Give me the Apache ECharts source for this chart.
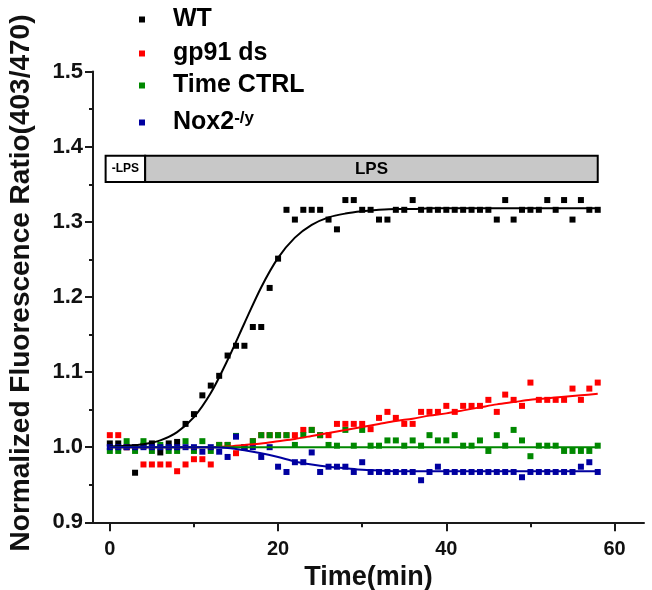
<!DOCTYPE html>
<html>
<head>
<meta charset="utf-8">
<script src="https://cdn.jsdelivr.net/npm/echarts@6/dist/echarts.min.js"></script>
<style>
html,body{margin:0;padding:0;background:#fff;}
#chart{width:652px;height:590px;}
</style>
</head>
<body>
<div id="chart"></div>
<script>
// ---- data ----
const time = [0,1,2,3,4,5,6,7,8,9,10,11,12,13,14,15,16,17,18,19,20,21,22,23,24,25,26,27,28,29,30,31,32,33,34,35,36,37,38,39,40,41,42,43,44,45,46,47,48,49,50,51,52,53,54,55,56,57,58];

const wt = [1.005,1.005,1.000,0.966,1.002,1.005,0.993,1.005,1.007,1.031,1.044,1.069,1.082,1.095,1.122,1.135,1.135,1.160,1.160,1.212,1.251,1.316,1.303,1.316,1.316,1.316,1.303,1.290,1.329,1.329,1.316,1.316,1.303,1.303,1.316,1.316,1.329,1.316,1.316,1.316,1.316,1.316,1.316,1.316,1.316,1.316,1.303,1.329,1.303,1.316,1.316,1.316,1.329,1.316,1.329,1.303,1.329,1.316,1.316];

const gp91 = [1.016,1.016,1.000,1.000,0.977,0.977,0.977,0.977,0.968,0.977,0.984,0.984,0.977,1.003,1.003,0.992,1.000,1.008,1.016,1.016,1.016,1.016,1.016,1.023,1.023,1.016,1.016,1.031,1.031,1.031,1.031,1.024,1.039,1.047,1.039,1.031,1.031,1.047,1.047,1.047,1.055,1.047,1.055,1.055,1.055,1.063,1.047,1.070,1.063,1.055,1.086,1.063,1.063,1.063,1.063,1.078,1.063,1.078,1.086];

const timeCtrl = [0.995,0.995,1.008,0.995,1.008,0.995,1.003,0.995,0.995,1.008,0.995,1.008,0.995,1.003,1.003,1.015,1.000,1.008,1.016,1.016,1.016,1.016,1.003,1.016,1.023,1.016,1.003,1.002,1.023,1.002,1.023,1.002,1.002,1.009,1.009,1.002,1.009,1.002,1.016,1.009,1.009,1.016,1.002,1.002,1.009,0.995,1.016,1.002,1.023,1.009,0.988,1.002,1.002,1.002,0.995,0.995,0.995,0.995,1.002];

const nox2 = [1.000,1.000,1.000,1.000,1.000,1.000,1.000,1.000,1.000,1.000,1.000,0.994,1.000,0.994,0.987,1.014,1.000,1.000,0.987,1.000,0.974,0.967,0.980,0.980,0.993,0.967,0.974,0.974,0.974,0.967,0.980,0.967,0.967,0.967,0.967,0.967,0.967,0.956,0.967,0.974,0.967,0.967,0.967,0.967,0.967,0.967,0.967,0.967,0.967,0.960,0.967,0.967,0.967,0.967,0.967,0.967,0.974,0.980,0.967];

// fitted curves, read at 2-min steps
const fitTime = [0,2,4,6,8,10,12,14,16,18,20,22,24,26,28,30,32,34,36,38,40,42,44,46,48,50,52,54,56,58];
const wtFit = [1.001,1.002,1.004,1.009,1.020,1.040,1.072,1.116,1.165,1.213,1.252,1.279,1.296,1.306,1.311,1.314,1.316,1.317,1.317,1.318,1.318,1.318,1.318,1.318,1.318,1.318,1.318,1.318,1.318,1.318];
const gp91Fit = [1.000,1.000,1.000,1.000,1.000,1.000,1.000,1.001,1.003,1.005,1.008,1.011,1.015,1.019,1.023,1.027,1.031,1.035,1.038,1.042,1.045,1.049,1.053,1.057,1.060,1.063,1.065,1.067,1.069,1.071];
const ctrlFit = [1.000,1.000,1.000,1.000,1.000,1.000,1.000,1.000,1.000,1.000,1.000,1.000,1.000,1.000,1.000,1.000,1.000,1.000,1.000,1.000,1.000,1.000,1.000,1.000,1.000,1.000,1.000,1.000,1.000,1.000];
const nox2Fit = [1.000,1.000,1.000,1.000,1.000,1.000,1.000,0.999,0.996,0.992,0.987,0.981,0.977,0.974,0.972,0.970,0.969,0.968,0.968,0.968,0.968,0.968,0.968,0.968,0.968,0.968,0.968,0.968,0.968,0.968];

const seriesNames = ['WT', 'gp91 ds', 'Time CTRL', 'Nox2-/y'];
const xTicks = [0, 20, 40, 60];
const xMinorTicks = [10, 30, 50];
// LPS treatment bar (data coordinates)
const lpsStart = -0.5, lpsOn = 4.2, lpsEnd = 58;
const lpsLow = 1.353, lpsHigh = 1.388;

// ---- chart ----
const FONT = "'Liberation Sans', Arial, sans-serif";
const colors = ['#000000', '#ff0000', '#008800', '#0000a0'];
const chart = echarts.init(document.getElementById('chart'), null, {renderer: 'canvas'});

function zip(xs, ys) { return xs.map((x, i) => [x, ys[i]]); }

const pointSets = [wt, gp91, timeCtrl, nox2];
const fitSets = [wtFit, gp91Fit, ctrlFit, nox2Fit];

const series = [];
pointSets.forEach((vals, i) => {
  const s = {
    name: seriesNames[i],
    type: 'scatter',
    symbol: 'rect',
    symbolSize: 6,
    itemStyle: {color: colors[i], opacity: 1},
    data: zip(time, vals),
    z: 3,
    silent: true
  };
  if (i === 0) {
    s.markArea = {
      silent: true,
      itemStyle: {borderColor: '#000', borderWidth: 2},
      label: {position: 'inside', fontFamily: FONT, fontWeight: 'bold', color: '#000'},
      data: [
        [{xAxis: lpsStart, yAxis: lpsLow, itemStyle: {color: '#ffffff'},
          label: {formatter: '-LPS', fontSize: 12}},
         {xAxis: lpsOn, yAxis: lpsHigh}],
        [{xAxis: lpsOn, yAxis: lpsLow, itemStyle: {color: '#c8c8c8'},
          label: {formatter: 'LPS', fontSize: 17}},
         {xAxis: lpsEnd, yAxis: lpsHigh}]
      ]
    };
  }
  series.push(s);
});
fitSets.forEach((vals, i) => {
  series.push({
    name: seriesNames[i] + ' fit',
    type: 'line',
    data: zip(fitTime, vals),
    showSymbol: false,
    smooth: 0.3,
    lineStyle: {color: colors[i], width: 2},
    z: 4,
    silent: true
  });
});

const legendCenters = [20, 54, 86, 123];
const legends = seriesNames.map((n, i) => ({
  data: [n],
  left: 139,
  top: legendCenters[i] - 13,
  padding: 0,
  icon: 'rect',
  itemWidth: 6,
  itemHeight: 6,
  selectedMode: false,
  formatter: function (name) {
    if (name === 'Nox2-/y') return '{a|Nox2}{s|-/y}';
    return '{a|' + name + '}';
  },
  textStyle: {
    padding: [0, 0, 0, 23],
    rich: {
      a: {fontFamily: FONT, fontWeight: 'bold', fontSize: 25, color: '#000'},
      s: {fontFamily: FONT, fontWeight: 'bold', fontSize: 17, color: '#000', verticalAlign: 'top'}
    }
  }
}));

const axisLineStyle = {color: '#1a1a1a', width: 2};

const option = {
  backgroundColor: '#ffffff',
  animation: false,
  legend: legends,
  grid: {left: 93, right: 8, top: 71.6, bottom: 67.7, containLabel: false, outerBoundsMode: 'none'},
  xAxis: [{
    type: 'value', min: -2, max: 63.5,
    axisLine: {show: true, onZero: false, lineStyle: axisLineStyle},
    axisTick: {show: true, length: 9, customValues: xTicks, lineStyle: {color: '#1a1a1a', width: 2}},
    axisLabel: {customValues: xTicks, margin: 17, fontFamily: FONT, fontWeight: 'bold', fontSize: 20, color: '#111'},
    splitLine: {show: false},
    name: 'Time(min)', nameLocation: 'middle', nameGap: 42,
    nameTextStyle: {fontFamily: FONT, fontWeight: 'bold', fontSize: 27, color: '#111'}
  }, {
    type: 'value', min: -2, max: 63.5, position: 'bottom',
    axisLine: {show: false},
    axisTick: {show: true, length: 5, customValues: xMinorTicks, lineStyle: {color: '#1a1a1a', width: 2}},
    axisLabel: {show: false},
    splitLine: {show: false}
  }],
  yAxis: {
    type: 'value', min: 0.9, max: 1.5, interval: 0.1,
    axisLine: {show: true, onZero: false, lineStyle: axisLineStyle},
    axisTick: {show: true, length: 8, lineStyle: {color: '#1a1a1a', width: 2}},
    minorTick: {show: true, splitNumber: 2, length: 4, lineStyle: {color: '#1a1a1a', width: 2}},
    axisLabel: {margin: 10, fontFamily: FONT, fontWeight: 'bold', fontSize: 22, color: '#111',
      formatter: v => v.toFixed(1)},
    splitLine: {show: false},
    name: 'Normalized Fluorescence Ratio(403/470)', nameLocation: 'middle', nameGap: 58,
    nameTextStyle: {fontFamily: FONT, fontWeight: 'bold', fontSize: 28, color: '#111', padding: [0, 0, 0, 28]}
  },
  series: series
};
chart.setOption(option);
</script>
</body>
</html>
